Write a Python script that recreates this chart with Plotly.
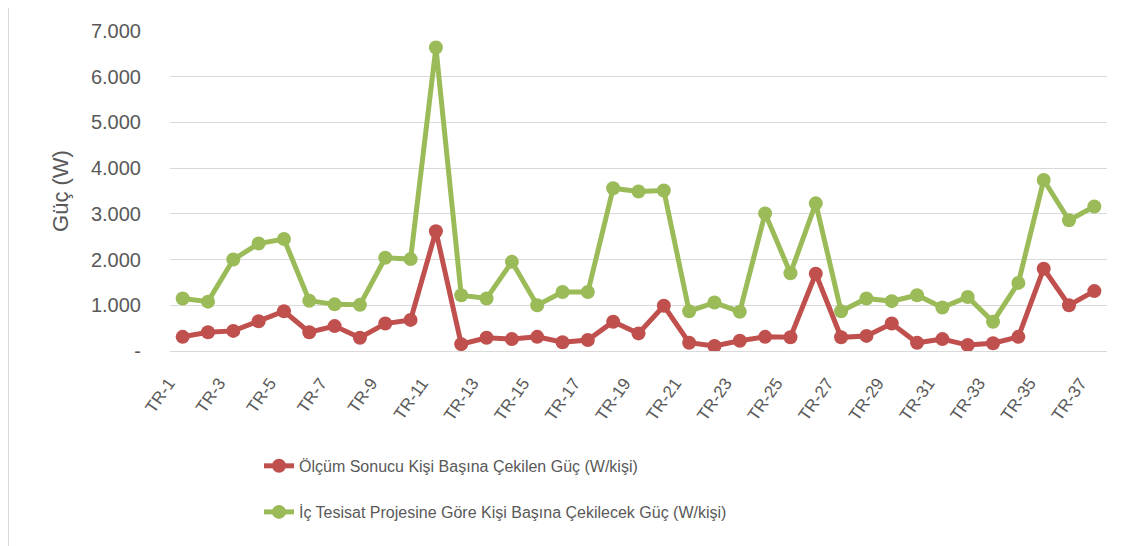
import plotly.graph_objects as go

categories = [f"TR-{i}" for i in range(1, 38)]
olcum = [310, 410, 440, 650, 870, 410, 545, 290, 600, 680, 2620, 150, 290,
         260, 310, 190, 240, 640, 385, 990, 180, 110, 225, 310, 300, 1690,
         300, 330, 600, 180, 260, 130, 170, 310, 1800, 1000, 1310]
proje = [1150, 1080, 2000, 2350, 2450, 1100, 1020, 1010, 2040, 2010, 6640, 1220, 1150,
         1950, 1000, 1290, 1290, 3560, 3490, 3510, 870, 1060, 860, 3010, 1700, 3230,
         870, 1150, 1090, 1220, 950, 1180, 640, 1490, 3740, 2860, 3160]
name_olcum = "Ölçüm Sonucu Kişi Başına Çekilen Güç (W/kişi)"
name_proje = "İç Tesisat Projesine Göre Kişi Başına Çekilecek Güç (W/kişi)"
ytick_vals = [0, 1000, 2000, 3000, 4000, 5000, 6000, 7000]
ytick_text = ["-", "1.000", "2.000", "3.000", "4.000", "5.000", "6.000", "7.000"]

font_family = "Liberation Sans, Arial, sans-serif"
gray = "#595959"

L, T, PW, PH = 162, 23, 937, 320

fig = go.Figure()
fig.add_trace(go.Scatter(
    x=categories, y=olcum, name=name_olcum, mode="lines+markers",
    line=dict(color="#C0504D", width=5), marker=dict(color="#C0504D", size=14),
    legend="legend"))
fig.add_trace(go.Scatter(
    x=categories, y=proje, name=name_proje, mode="lines+markers",
    line=dict(color="#9BBB59", width=5), marker=dict(color="#9BBB59", size=14),
    legend="legend2"))

fig.update_layout(
    width=1142, height=546,
    margin=dict(l=L, r=1142 - L - PW, t=T, b=546 - T - PH),
    paper_bgcolor="white", plot_bgcolor="white",
    font=dict(family=font_family, color=gray, size=17),
    showlegend=True,
    legend=dict(x=0.095, y=-0.306, xanchor="left", yanchor="top",
                font=dict(size=16, color=gray), bgcolor="rgba(0,0,0,0)"),
    legend2=dict(x=0.095, y=-0.45, xanchor="left", yanchor="top",
                 font=dict(size=16, color=gray), bgcolor="rgba(0,0,0,0)"),
    xaxis=dict(
        type="category", range=[-0.5, 36.5],
        tickvals=categories[::2], ticktext=categories[::2],
        tickangle=-55, tickfont=dict(size=17, color=gray),
        showgrid=False, showline=False, ticks="", zeroline=False,
        ticklabelstandoff=18, ticklabelshift=-14),
    yaxis=dict(
        range=[0, 7000], tickvals=ytick_vals, ticktext=ytick_text,
        tickfont=dict(size=20, color=gray),
        showgrid=True, gridcolor="#D9D9D9", gridwidth=1,
        zeroline=True, zerolinecolor="#D9D9D9", zerolinewidth=1,
        showline=False, ticks="", ticklabelstandoff=28,
        title=dict(text="Güç (W)", font=dict(size=22, color=gray), standoff=16)),
    shapes=[dict(type="line", xref="paper", yref="paper",
                 x0=(0.5 - L) / PW, x1=(0.5 - L) / PW,
                 y0=-(546 - T - PH) / PH, y1=(PH + T) / PH,
                 line=dict(color="#D9D9D9", width=1), layer="below")],
)

fig.write_html("out.html")
